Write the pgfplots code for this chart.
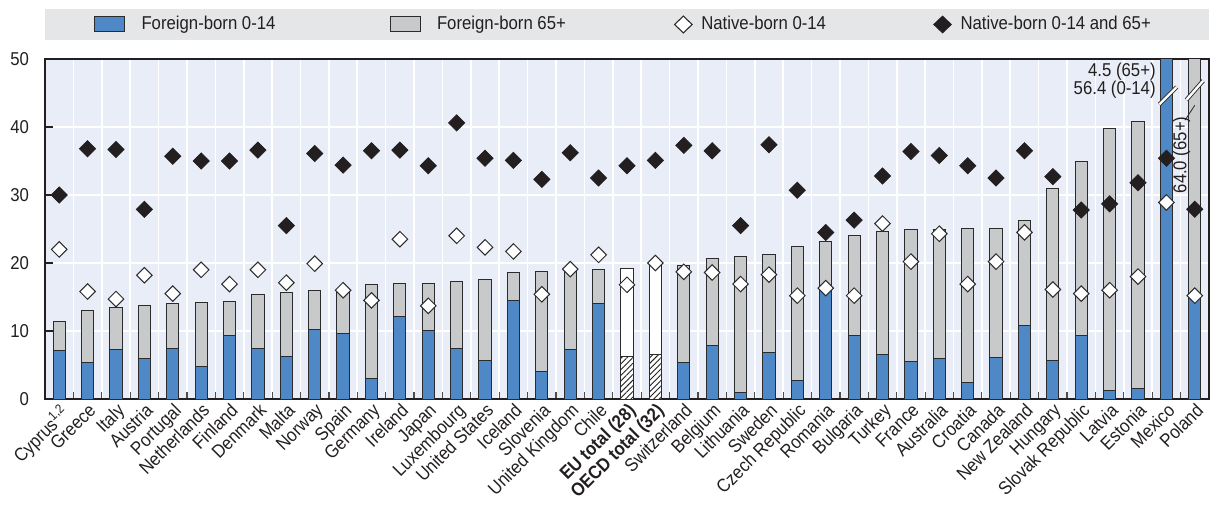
\documentclass[border=0pt]{standalone}
\usepackage{fontspec}
\setmainfont{Liberation Sans}[FakeStretch=0.9]
\usepackage{pgfplots}
\pgfplotsset{compat=1.18}
\usepackage{pgfplotstable}
\usetikzlibrary{patterns.meta}

\definecolor{fbblue}{HTML}{4E88C7}
\definecolor{fbgray}{HTML}{C8C9CB}
\definecolor{plotbg}{HTML}{E9EDF7}
\definecolor{legbg}{HTML}{E5E6E8}
\definecolor{ink}{HTML}{231F20}
\definecolor{edge}{HTML}{2B2B2B}

% Share of foreign-born aged 0-14 and 65+ (stacked bars) and native-born shares (diamonds)
\pgfplotstableread{
x  fb014 fb65 nb014 nb
0  7.2  4.2  22.0 30.0
1  5.4  7.6  15.8 36.8
2  7.3  6.1  14.7 36.7
3  5.9  7.8  18.2 27.9
4  7.5  6.6  15.5 35.7
5  4.8  9.4  19.0 35.0
6  9.4  4.9  16.9 35.0
7  7.5  7.9  19.0 36.6
8  6.3  9.3  17.1 25.5
9  10.2 5.7  19.9 36.1
10 9.7  6.3  16.0 34.4
11 3.0  13.9 14.5 36.5
12 12.2 4.8  23.5 36.6
13 10.1 6.9  13.7 34.3
14 7.4  9.9  24.0 40.6
15 5.6  12.0 22.3 35.4
16 14.5 4.1  21.7 35.1
17 4.1  14.7 15.4 32.3
18 7.3  11.7 19.1 36.2
19 14.1 4.9  21.2 32.5
22 5.3  14.4 18.7 37.3
23 7.9  12.8 18.6 36.5
24 1.0  19.9 16.9 25.5
25 6.9  14.3 18.3 37.4
26 2.7  19.7 15.2 30.7
27 15.9 7.2  16.3 24.5
28 9.3  14.7 15.2 26.3
29 6.5  18.1 25.8 32.8
30 5.5  19.4 20.2 36.4
31 6.0  19.0 24.3 35.8
32 2.5  22.6 16.9 34.3
33 6.1  19.0 20.2 32.5
34 10.8 15.4 24.5 36.5
35 5.6  25.3 16.1 32.7
36 9.4  25.5 15.5 27.8
37 1.2  38.6 16.0 28.7
38 1.5  39.3 18.0 31.8
39 56.4 4.5  28.9 35.4
40 15.0 64.0 15.2 27.9
}\countries

\pgfplotstableread{
x  fb014 fb65 nb014 nb
20 6.2  13.0 16.8 34.3
21 6.6  13.2 20.0 35.1
}\totals

\pgfplotsset{
  mybar/.style={ybar, bar width=0.43, bar shift=0pt, draw=edge, line width=0.5pt},
  whitediamond/.style={only marks, mark=square*, mark size=2.75pt,
    mark options={rotate=45, fill=white, draw=edge, line width=0.5pt}},
  blackdiamond/.style={only marks, mark=square*, mark size=2.85pt,
    mark options={rotate=45, fill=ink, draw=ink, line width=0.4pt}},
}

\begin{document}
\begin{tikzpicture}[font=\fontsize{9.3}{11}\selectfont, text=ink]
\useasboundingbox (0,0) rectangle (605pt,252pt);
% legend band
\fill[legbg] (22.5pt,232pt) rectangle (604.5pt,247.5pt);
\begin{axis}[
  at={(22.5pt,52.5pt)}, anchor=south west,
  scale only axis, width=582pt, height=170pt,
  xmin=-0.5, xmax=40.5, ymin=0, ymax=50,
  axis background/.style={fill=plotbg},
  axis line style={ink, line width=0.9pt},
  xtick={0,...,40},
  xticklabels={{Cyprus\textsuperscript{1,2}},Greece,Italy,Austria,Portugal,Netherlands,Finland,Denmark,Malta,Norway,Spain,Germany,Ireland,Japan,Luxembourg,United States,Iceland,Slovenia,United Kingdom,Chile,{\bfseries EU total (28)},{\bfseries OECD total (32)},Switzerland,Belgium,Lithuania,Sweden,Czech Republic,Romania,Bulgaria,Turkey,France,Australia,Croatia,Canada,New Zealand,Hungary,Slovak Republic,Latvia,Estonia,Mexico,Poland},
  minor xtick={-0.5,0.5,...,40.5},
  ytick={0,10,...,50},
  tick align=inside, tick pos=left,
  major tick length=4pt, minor tick length=3.5pt,
  major x tick style={draw=none},
  minor x tick style={draw=gray!60!black, line width=0.6pt},
  ytick style={draw=ink, line width=0.6pt},
  ymajorgrids, xminorgrids,
  major grid style={white, line width=0.8pt},
  minor grid style={white, line width=0.8pt},
  xticklabel style={rotate=45, anchor=north east, inner sep=1pt, text=ink},
  yticklabel style={xshift=-4.5pt, text=ink},
  /pgf/number format/assume math mode=true,
  legend columns=4,
  legend cell align=left,
  legend style={at={(0.0421,1.1015)}, anchor=west, draw=none, fill=none,
    inner sep=0pt, outer sep=0pt, column sep=0pt, row sep=0pt,
    nodes={inner sep=0pt, text=ink}},
]
% legend glyphs (the invisible path keeps the gap before the text)
\addlegendimage{legend image code/.code={
  \draw[draw=edge, fill=fbblue, line width=0.5pt] (0pt,-3.75pt) rectangle (15pt,3.75pt);
  \path[draw=none, fill=none] (0pt,0pt) rectangle (23.5pt,0pt);}}
\addlegendentry{\makebox[124pt][l]{Foreign-born 0-14}}
\addlegendimage{legend image code/.code={
  \draw[draw=edge, fill=fbgray, line width=0.5pt] (0pt,-3.75pt) rectangle (15pt,3.75pt);
  \path[draw=none, fill=none] (0pt,0pt) rectangle (23.5pt,0pt);}}
\addlegendentry{\makebox[118.5pt][l]{Foreign-born 65+}}
\addlegendimage{legend image code/.code={
  \draw[draw=edge, fill=white, line width=0.55pt] (4.5pt,-4.2pt) -- (8.9pt,0pt) -- (4.5pt,4.2pt) -- (0.1pt,0pt) -- cycle;
  \path[draw=none, fill=none] (0pt,0pt) rectangle (13.5pt,0pt);}}
\addlegendentry{\makebox[116pt][l]{Native-born 0-14}}
\addlegendimage{legend image code/.code={
  \draw[draw=ink, fill=ink, line width=0.4pt] (4.5pt,-4.2pt) -- (8.9pt,0pt) -- (4.5pt,4.2pt) -- (0.1pt,0pt) -- cycle;
  \path[draw=none, fill=none] (0pt,0pt) rectangle (13.5pt,0pt);}}
\addlegendentry{Native-born 0-14 and 65+}

% foreign-born bars: total (0-14 + 65+) in grey, 0-14 in blue on top of it
\addplot[mybar, fill=fbgray, forget plot] table[x=x, y expr=\thisrow{fb014}+\thisrow{fb65}] {\countries};
\addplot[mybar, fill=fbblue, forget plot] table[x=x, y=fb014] {\countries};
% EU and OECD totals: white with hatched 0-14 part
\addplot[mybar, fill=white, forget plot] table[x=x, y expr=\thisrow{fb014}+\thisrow{fb65}] {\totals};
\addplot[mybar, preaction={fill=white}, pattern={Lines[angle=45,distance=2pt,line width=0.45pt]}, pattern color=ink, forget plot] table[x=x, y=fb014] {\totals};

% native-born shares
\addplot[whitediamond, forget plot] table[x=x, y=nb014] {\countries};
\addplot[whitediamond, forget plot] table[x=x, y=nb014] {\totals};
\addplot[blackdiamond, forget plot] table[x=x, y=nb] {\countries};
\addplot[blackdiamond, forget plot] table[x=x, y=nb] {\totals};

% off-scale bars: break marks and value labels
\draw[edge, line width=0.45pt, double=white, double distance=1.2pt]
  ([xshift=-3.5pt,yshift=-4.3pt]axis cs:39,44.6) -- ([xshift=5.1pt,yshift=4.3pt]axis cs:39,44.6);
\draw[edge, line width=0.45pt, double=white, double distance=1.2pt]
  ([xshift=-4.2pt,yshift=-4.8pt]axis cs:40,45.4) -- ([xshift=4.2pt,yshift=4.8pt]axis cs:40,45.4);
\node[anchor=east, inner sep=0pt] at ([xshift=-5.2pt]axis cs:39,48.13) {4.5 (65+)};
\node[anchor=east, inner sep=0pt] at ([xshift=-5.2pt]axis cs:39,45.44) {56.4 (0-14)};
\node[rotate=90, inner sep=0pt] at ([xshift=-6.65pt]axis cs:40,35.9) {64.0 (65+)};
\draw[edge, line width=0.4pt] ([xshift=-4.9pt]axis cs:40,41.0) -- ([xshift=0pt]axis cs:40,43.2);
\end{axis}
\end{tikzpicture}
\end{document}
